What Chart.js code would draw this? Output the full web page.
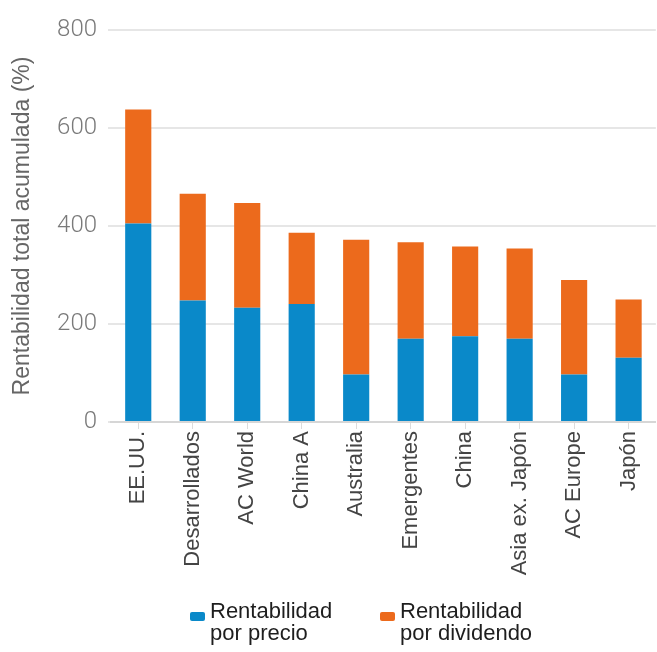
<!DOCTYPE html>
<html>
<head>
<meta charset="utf-8">
<script src="https://cdn.jsdelivr.net/npm/chart.js@4.4.1/dist/chart.umd.min.js"></script>
<style>
  body { margin: 0; background: #fff; }
  #wrap { position: relative; width: 657px; height: 652px; }
  #legend { position: absolute; top: 600px; left: 0; width: 657px; font-family: "Liberation Sans", Arial, sans-serif; font-size: 22px; color: #1e1e1e; line-height: 22px; }
  .item { position: absolute; }
  .box { position: absolute; width: 15px; height: 9px; border-radius: 2px; top: 12px; }
  .txt { position: absolute; left: 20px; white-space: nowrap; }
</style>
</head>
<body>
<div id="wrap">
  <canvas id="myChart" width="657" height="652"></canvas>
  <div id="legend"></div>
</div>
<script>
// indices, ordered by total return
const regions = ["EE.UU.", "Desarrollados", "AC World", "China A", "Australia", "Emergentes", "China", "Asia ex. Japón", "AC Europe", "Japón"];
const price_return = [405, 248, 233, 241, 97, 170, 175, 170, 97, 131];
const dividend_return = [233, 218, 214, 145, 275, 197, 183, 184, 193, 119];
const y_ticks = [0, 200, 400, 600, 800];

const series_names = [["Rentabilidad", "por precio"], ["Rentabilidad", "por dividendo"]];
const series_colors = ["#0a89c9", "#ec6a1c"];

var ctx = document.getElementById("myChart").getContext("2d");
var chart = new Chart(ctx, {
  type: "bar",
  data: {
    labels: regions,
    datasets: [
      {
        label: series_names[0].join(" "),
        data: price_return,
        backgroundColor: series_colors[0],
        barPercentage: 0.48,
        categoryPercentage: 1,
      },
      {
        label: series_names[1].join(" "),
        data: dividend_return,
        backgroundColor: series_colors[1],
        barPercentage: 0.48,
        categoryPercentage: 1,
      },
    ],
  },
  options: {
    responsive: false,
    animation: false,
    layout: { padding: { top: 30, bottom: 70, left: 0, right: 0 } },
    plugins: { legend: { display: false }, tooltip: { enabled: false } },
    scales: {
      x: {
        stacked: true,
        afterFit: function (scale) { scale.height = 160; },
        grid: { offset: false, drawOnChartArea: false, drawTicks: true, tickLength: 7, color: "#dcdcdc", lineWidth: 1 },
        border: { color: "#d6d6d6", width: 2 },
        ticks: {
          minRotation: 90, maxRotation: 90, padding: 2,
          color: "#444",
          font: { family: "'Liberation Sans', Arial, sans-serif", size: 22 },
        },
      },
      y: {
        stacked: true,
        min: 0,
        max: 800,
        afterFit: function (scale) { scale.width = 111; },
        afterBuildTicks: function (scale) { scale.ticks = y_ticks.map(v => ({ value: v })); },
        grid: { color: "#e6e6e6", lineWidth: 2, drawTicks: true, tickLength: 3 },
        border: { display: false },
        ticks: {
          padding: 11,
          color: "#7a7a7a",
          font: { family: "Roboto", weight: 300, size: 24 },
        },
        title: {
          display: true,
          text: "Rentabilidad total acumulada (%)",
          color: "#666",
          padding: { top: 9, bottom: 0 },
          font: { family: "'Liberation Sans', Arial, sans-serif", size: 23 },
        },
      },
    },
  },
});

// legend with two-line labels
var legend = document.getElementById("legend");
var legend_x = [190, 380];
series_names.forEach(function (lines, i) {
  var item = document.createElement("div");
  item.className = "item";
  item.style.left = legend_x[i] + "px";
  var box = document.createElement("div");
  box.className = "box";
  box.style.background = series_colors[i];
  var txt = document.createElement("div");
  txt.className = "txt";
  txt.innerHTML = lines[0] + "<br>" + lines[1];
  item.appendChild(box);
  item.appendChild(txt);
  legend.appendChild(item);
});
</script>
</body>
</html>
